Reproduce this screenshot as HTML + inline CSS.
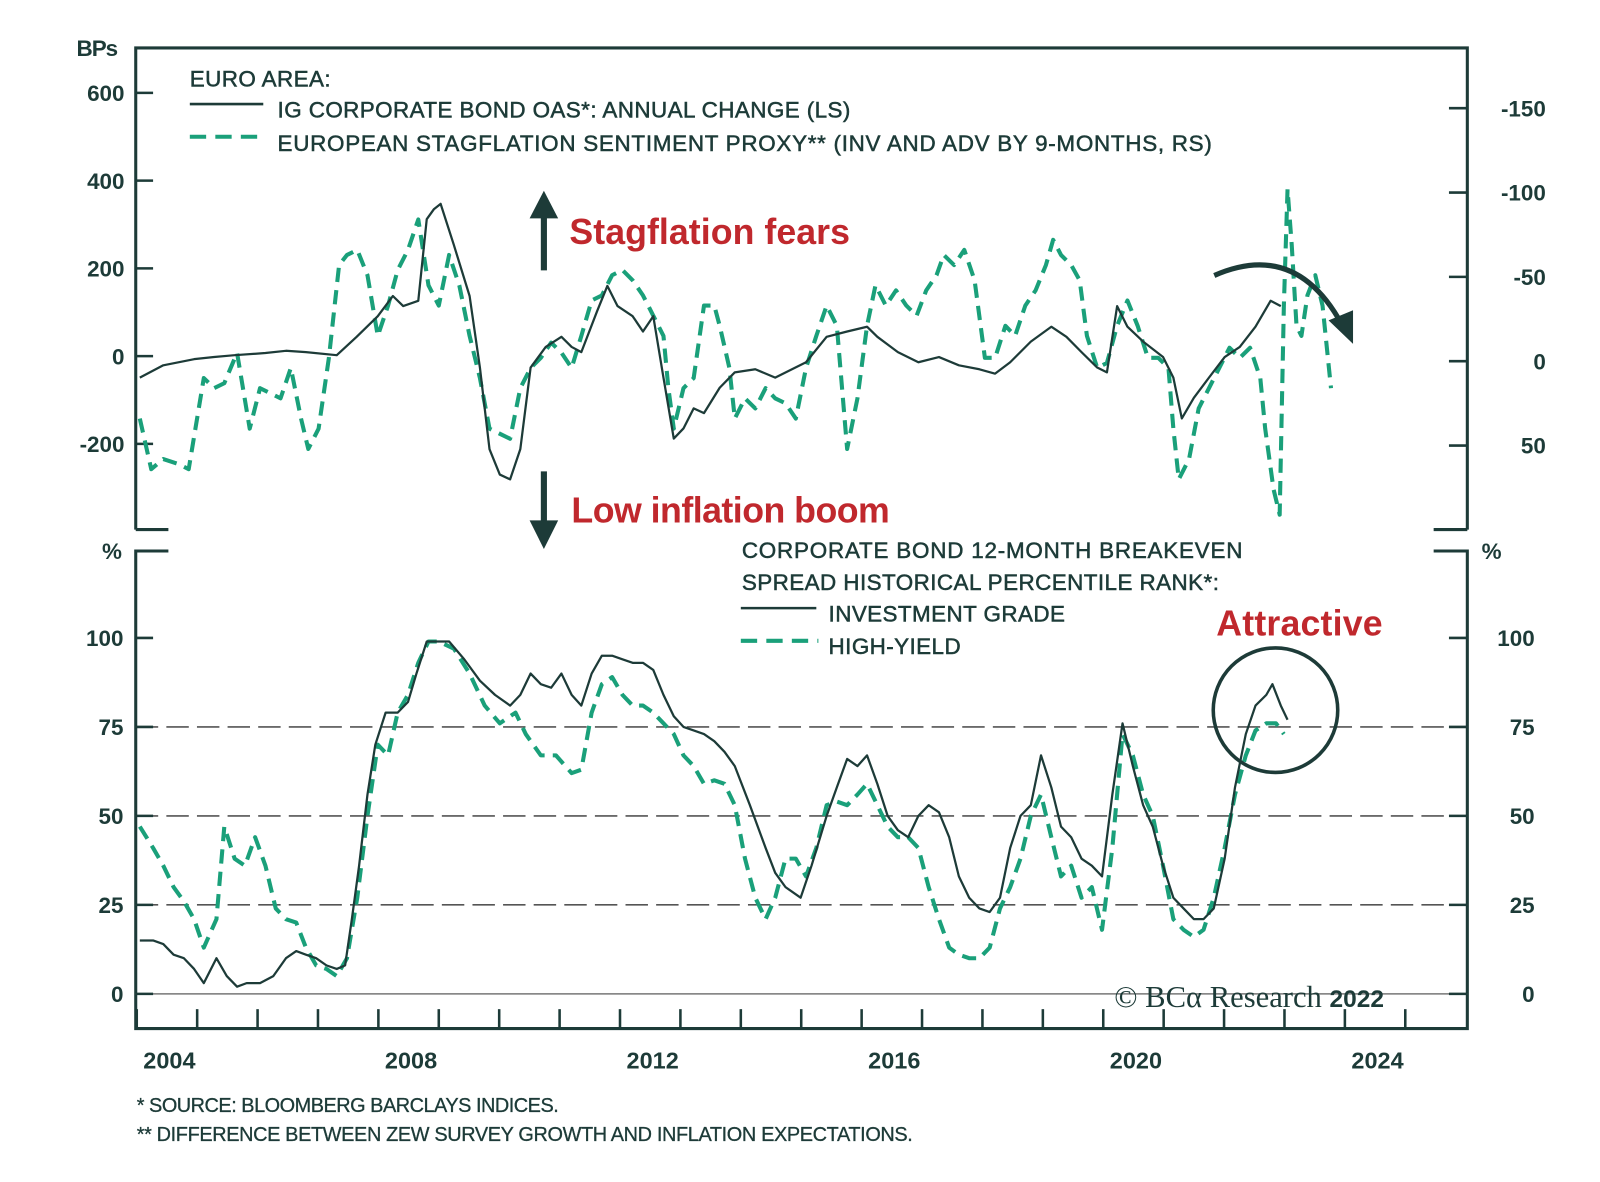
<!DOCTYPE html>
<html><head><meta charset="utf-8">
<style>
html,body{margin:0;padding:0;background:#fff;}
svg{display:block;font-family:"Liberation Sans",sans-serif;}
.t{fill:#1d3b38;font-size:22px;letter-spacing:0.4px;stroke:#1d3b38;stroke-width:0.5px;}
.tk{fill:#1d3b38;font-size:22px;font-weight:bold;letter-spacing:0px;}
.yr{fill:#1d3b38;font-size:23px;font-weight:bold;}
.red{fill:#c0282d;font-size:35px;font-weight:bold;}
.fn{fill:#1d3b38;font-size:19.5px;letter-spacing:-0.6px;stroke:#1d3b38;stroke-width:0.3px;}
</style></head>
<body>
<svg id="chart" width="1600" height="1182" viewBox="0 0 1568 1158.4">
  <g id="frame" stroke="#1d3b38" stroke-width="3" fill="none">
    <path d="M133 519 L133 47 L1438 47 L1438 519"/>
    <path d="M133 519 L165 519 M1405 519 L1438 519"/>
    <path d="M165 540 L133 540 L133 1008 L1438 1008 L1438 540 L1405 540"/>
  </g>
  <line x1="133" x2="1438" y1="974" y2="974" stroke="#777" stroke-width="1.5"/>
  <g id="grid"></g>
  <g id="ticks"></g>
  <g id="series"></g>

  <text class="tk" x="75" y="55" style="letter-spacing:-1px">BPs</text>
  <text class="tk" x="100" y="548">%</text>
  <text class="tk" x="1452" y="548">%</text>

  <g>
    <text class="t" x="186" y="85">EURO AREA:</text>
    <line x1="186" x2="258" y1="102" y2="102" stroke="#1d3b38" stroke-width="2.5"/>
    <text class="t" x="272" y="115">IG CORPORATE BOND OAS*: ANNUAL CHANGE (LS)</text>
    <line x1="186" x2="260" y1="134" y2="134" stroke="#1aa07a" stroke-width="4" stroke-dasharray="16,9"/>
    <text class="t" x="272" y="148" textLength="916">EUROPEAN STAGFLATION SENTIMENT PROXY** (INV AND ADV BY 9-MONTHS, RS)</text>
  </g>
  <g>
    <text class="t" x="727" y="547" textLength="491">CORPORATE BOND 12-MONTH BREAKEVEN</text>
    <text class="t" x="727" y="578" textLength="468">SPREAD HISTORICAL PERCENTILE RANK*:</text>
    <line x1="726" x2="800" y1="596" y2="596" stroke="#1d3b38" stroke-width="2.5"/>
    <text class="t" x="812" y="609">INVESTMENT GRADE</text>
    <line x1="726" x2="802" y1="628" y2="628" stroke="#1aa07a" stroke-width="4" stroke-dasharray="16,9"/>
    <text class="t" x="812" y="641">HIGH-YIELD</text>
  </g>

  <g>
    <line x1="533" y1="265" x2="533" y2="210" stroke="#1d3b38" stroke-width="6"/>
    <polygon points="519,214 547,214 533,187" fill="#1d3b38"/>
    <text class="red" x="558" y="239" textLength="275">Stagflation fears</text>
  </g>
  <g>
    <line x1="533" y1="462" x2="533" y2="514" stroke="#1d3b38" stroke-width="6"/>
    <polygon points="519,510 547,510 533,538" fill="#1d3b38"/>
    <text class="red" x="560" y="512" textLength="312">Low inflation boom</text>
  </g>
  <g>
    <path d="M1190 270 Q1270 235 1315 318" stroke="#1d3b38" stroke-width="5" fill="none"/>
    <polygon points="1302,314 1326,304 1326,337" fill="#1d3b38"/>
  </g>
  <g>
    <text class="red" x="1192" y="623" textLength="163">Attractive</text>
    <circle cx="1250" cy="696" r="61" fill="none" stroke="#1d3b38" stroke-width="3.5"/>
  </g>

  <text x="1092" y="987" style="font-family:'Liberation Serif',serif;font-size:30px;fill:#1d3b38">© BCα Research <tspan style="font-family:'Liberation Sans',sans-serif;font-weight:bold;font-size:24px">2022</tspan></text>
  <text class="fn" x="134" y="1090" textLength="413">* SOURCE: BLOOMBERG BARCLAYS INDICES.</text>
  <text class="fn" x="134" y="1118" textLength="760">** DIFFERENCE BETWEEN ZEW SURVEY GROWTH AND INFLATION EXPECTATIONS.</text>
</svg>
<script>
const yearTicks=[2004,2008,2012,2016,2020,2024];
const leftTopTicks=[600,400,200,0,-200];
const rightTopTicks=[-150,-100,-50,0,50];
const bottomTicks=[100,75,50,25,0];
const gridLevels=[75,50,25];

const igOasYears=[2004.05,2004.44,2004.95,2005.28,2005.62,2006.13,2006.47,2006.80,2007.31,2007.64,2007.99,2008.24,2008.41,2008.66,2008.80,2008.92,2009.03,2009.25,2009.51,2009.68,2009.84,2010.01,2010.18,2010.35,2010.52,2010.77,2011.03,2011.20,2011.36,2011.62,2011.79,2011.96,2012.21,2012.38,2012.55,2012.72,2012.89,2013.05,2013.22,2013.39,2013.65,2013.90,2014.24,2014.57,2015.08,2015.42,2015.76,2016.09,2016.26,2016.60,2016.94,2017.28,2017.61,2017.95,2018.21,2018.46,2018.80,2019.14,2019.39,2019.64,2019.90,2020.06,2020.23,2020.40,2020.66,2020.99,2021.16,2021.30,2021.50,2021.75,2022.01,2022.26,2022.52,2022.77,2022.94];
const igOasValues=[-49,-21,-7,-2,2,7,12,9,2,44,91,137,114,126,312,335,347,253,137,-26,-212,-270,-281,-212,-26,21,44,21,9,102,160,114,91,56,91,-49,-188,-165,-119,-130,-72,-37,-30,-49,-14,44,56,67,44,9,-14,-2,-21,-30,-40,-14,33,67,44,9,-26,-37,114,67,33,-2,-49,-142,-95,-49,-2,21,67,126,114];

const stagYears=[2004.05,2004.24,2004.44,2004.69,2004.86,2005.11,2005.28,2005.45,2005.66,2005.87,2006.04,2006.21,2006.38,2006.55,2006.72,2006.84,2007.01,2007.18,2007.35,2007.48,2007.65,2007.82,2007.99,2008.16,2008.32,2008.49,2008.66,2008.83,2009.00,2009.17,2009.34,2009.51,2009.68,2009.84,2010.01,2010.18,2010.35,2010.52,2010.69,2010.86,2011.03,2011.20,2011.36,2011.53,2011.70,2011.87,2012.04,2012.21,2012.38,2012.55,2012.72,2012.80,2012.89,2013.05,2013.22,2013.39,2013.56,2013.65,2013.81,2013.90,2014.07,2014.24,2014.41,2014.57,2014.74,2014.91,2015.08,2015.25,2015.42,2015.59,2015.76,2015.93,2016.09,2016.23,2016.40,2016.57,2016.74,2016.91,2017.07,2017.24,2017.36,2017.53,2017.70,2017.87,2018.04,2018.21,2018.38,2018.54,2018.71,2018.88,2019.05,2019.17,2019.30,2019.47,2019.61,2019.73,2019.90,2020.06,2020.23,2020.40,2020.57,2020.74,2020.91,2021.08,2021.16,2021.25,2021.42,2021.58,2021.75,2021.92,2022.09,2022.26,2022.43,2022.60,2022.68,2022.82,2022.92,2022.99,2023.05,2023.12,2023.20,2023.28,2023.38,2023.51,2023.63,2023.77];
const stagValues=[34,64,58,61,64,10,16,13,-5,40,16,19,22,4,34,52,40,-2,-57,-63,-66,-51,-15,-33,-54,-66,-84,-45,-33,-63,-45,-15,10,40,43,46,16,4,-2,-11,-5,4,-15,-36,-39,-51,-54,-48,-39,-27,-15,16,40,16,10,-33,-33,-21,4,34,22,28,16,22,25,34,4,-15,-33,-21,52,22,-21,-45,-33,-42,-33,-27,-42,-51,-63,-57,-66,-48,-2,-2,-21,-15,-33,-42,-57,-72,-63,-57,-48,-15,4,1,-21,-36,-21,-2,-2,4,40,70,58,28,16,4,-8,-2,-8,10,40,76,91,-33,-102,-69,-21,-15,-39,-51,-33,16];

const igYears=[2004.05,2004.27,2004.44,2004.61,2004.78,2004.95,2005.11,2005.32,2005.49,2005.66,2005.82,2006.04,2006.26,2006.47,2006.64,2006.80,2006.97,2007.14,2007.31,2007.45,2007.56,2007.68,2007.82,2007.95,2008.12,2008.32,2008.49,2008.63,2008.80,2008.97,2009.17,2009.42,2009.68,2009.93,2010.18,2010.35,2010.52,2010.69,2010.86,2011.03,2011.20,2011.36,2011.53,2011.70,2011.87,2012.04,2012.21,2012.38,2012.55,2012.72,2012.89,2013.05,2013.22,2013.39,2013.56,2013.73,2013.90,2014.15,2014.41,2014.57,2014.74,2014.99,2015.17,2015.42,2015.59,2015.76,2015.93,2016.09,2016.26,2016.43,2016.60,2016.77,2016.94,2017.11,2017.28,2017.45,2017.61,2017.78,2017.95,2018.12,2018.29,2018.46,2018.63,2018.80,2018.97,2019.14,2019.30,2019.47,2019.64,2019.81,2019.98,2020.15,2020.32,2020.49,2020.66,2020.82,2020.99,2021.16,2021.33,2021.50,2021.66,2021.83,2022.01,2022.18,2022.36,2022.52,2022.70,2022.80,2022.94,2023.05];
const igValues=[15,15,14,11,10,7,3,10,5,2,3,3,5,10,12,11,10,8,7,8,21,36,56,70,79,79,82,90,99,99,99,94,88,84,81,84,90,87,86,90,84,81,90,95,95,94,93,93,91,84,78,75,74,73,71,68,64,53,41,34,30,27,36,50,58,66,64,67,59,50,46,44,50,53,51,44,33,27,24,23,27,41,50,53,67,58,47,44,38,36,33,56,76,64,53,47,36,27,24,21,21,24,38,58,73,81,84,87,81,77];

const hyYears=[2004.05,2004.27,2004.44,2004.61,2004.78,2004.95,2005.11,2005.32,2005.45,2005.62,2005.79,2005.96,2006.13,2006.30,2006.47,2006.64,2006.80,2006.97,2007.14,2007.31,2007.48,2007.65,2007.82,2007.99,2008.16,2008.32,2008.49,2008.66,2008.83,2009.00,2009.25,2009.51,2009.76,2010.01,2010.27,2010.44,2010.69,2010.94,2011.20,2011.36,2011.53,2011.70,2011.87,2012.04,2012.21,2012.38,2012.55,2012.72,2012.89,2013.05,2013.22,2013.39,2013.56,2013.73,2013.90,2014.07,2014.24,2014.41,2014.57,2014.74,2014.91,2015.08,2015.25,2015.42,2015.59,2015.76,2015.93,2016.09,2016.26,2016.43,2016.60,2016.77,2016.94,2017.11,2017.28,2017.45,2017.61,2017.78,2017.95,2018.12,2018.29,2018.46,2018.63,2018.80,2018.97,2019.14,2019.30,2019.47,2019.64,2019.81,2019.98,2020.15,2020.32,2020.49,2020.66,2020.82,2020.99,2021.16,2021.33,2021.50,2021.66,2021.83,2022.01,2022.18,2022.36,2022.52,2022.70,2022.86,2022.99];
const hyValues=[47,41,36,30,26,21,13,21,47,38,36,44,36,24,21,20,13,8,7,5,10,27,50,70,67,79,84,93,99,99,97,90,81,76,79,73,67,67,62,63,79,87,89,84,81,81,79,76,73,67,64,59,60,59,53,38,27,21,27,38,38,33,41,53,54,53,56,59,53,47,44,44,41,30,21,13,11,10,10,13,24,30,38,50,56,44,33,36,27,30,18,41,73,67,56,50,36,21,18,16,18,27,41,56,67,74,76,76,73];

const NS='http://www.w3.org/2000/svg';
const xOf=y=>134+59.2*(y-2004);
const yTopL=v=>349-0.43*v;
const yTopR=v=>354+1.653*v;
const yBot=v=>974-3.488*v;
function mk(tag,attrs,parent){const e=document.createElementNS(NS,tag);for(const k in attrs)e.setAttribute(k,attrs[k]);parent.appendChild(e);return e;}
const ticks=document.getElementById('ticks');
const grid=document.getElementById('grid');
const series=document.getElementById('series');

for(let y=2004;y<=2025;y++){
  const x=xOf(y);
  const l=mk('line',{x1:x,x2:x,y1:989,y2:1008,stroke:'#1d3b38','stroke-width':2.5},ticks);
  
  
}
yearTicks.forEach(y=>{
  const t=mk('text',{x:xOf(y)+32,y:1047,'text-anchor':'middle',class:'yr'},ticks);
  t.textContent=y;
  
  
});
leftTopTicks.forEach(v=>{
  const y=yTopL(v);
  mk('line',{x1:133,x2:150,y1:y,y2:y,stroke:'#1d3b38','stroke-width':2.5},ticks);
  const t=mk('text',{x:122,y:y+8,'text-anchor':'end',class:'tk'},ticks);
  t.textContent=v;
  
  
});
rightTopTicks.forEach(v=>{
  const y=yTopR(v);
  mk('line',{x1:1420,x2:1438,y1:y,y2:y,stroke:'#1d3b38','stroke-width':2.5},ticks);
  const t=mk('text',{x:1515,y:y+8,'text-anchor':'end',class:'tk'},ticks);
  t.textContent=v;
  
  
});
bottomTicks.forEach(v=>{
  const y=yBot(v);
  mk('line',{x1:133,x2:150,y1:y,y2:y,stroke:'#1d3b38','stroke-width':2.5},ticks);
  mk('line',{x1:1420,x2:1438,y1:y,y2:y,stroke:'#1d3b38','stroke-width':2.5},ticks);
  const t=mk('text',{x:121,y:y+8,'text-anchor':'end',class:'tk'},ticks);
  t.textContent=v;
  
  
  const t2=mk('text',{x:1504,y:y+8,'text-anchor':'end',class:'tk'},ticks);
  t2.textContent=v;
  
  
});
gridLevels.forEach(v=>{
  const g=mk('line',{x1:133,x2:1438,y1:yBot(v),y2:yBot(v),stroke:'#555','stroke-width':1.6,'stroke-dasharray':'22,8'},grid);
  
  
});
function line(xs,vs,yf,color,w,dash,name){
  const d=xs.map((x,i)=>(i?'L':'M')+xOf(x).toFixed(1)+' '+yf(vs[i]).toFixed(1)).join(' ');
  const p=mk('path',{d:d,fill:'none',stroke:color,'stroke-width':w,'stroke-linejoin':'round'},series);
  if(dash)p.setAttribute('stroke-dasharray',dash);
  
  
}
line(stagYears,stagValues,yTopR,'#1aa07a',4,'14,8','stagflation-proxy-line');
line(igOasYears,igOasValues,yTopL,'#1d3b38',2.2,null,'ig-oas-change-line');
line(hyYears,hyValues,yBot,'#1aa07a',4,'14,8','high-yield-line');
line(igYears,igValues,yBot,'#1d3b38',2.2,null,'investment-grade-line');
</script>
</body></html>
